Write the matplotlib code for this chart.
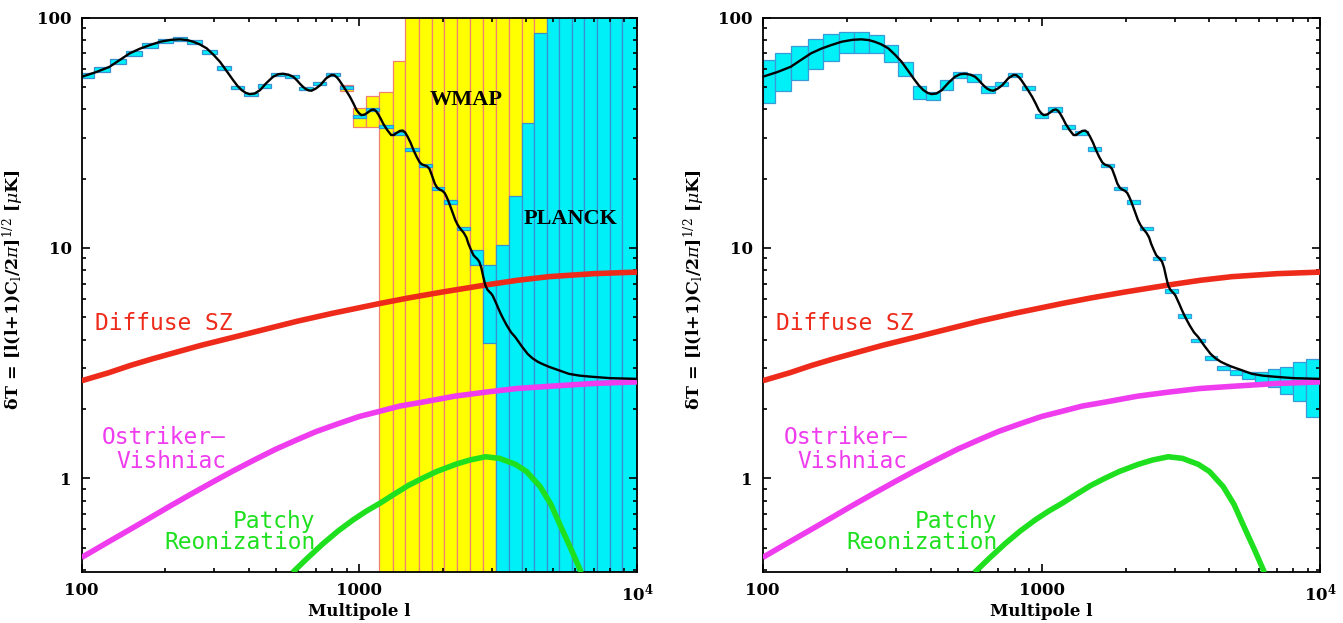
import matplotlib
matplotlib.use('Agg')
import matplotlib.pyplot as plt
import numpy as np

# --------------------  Data ------------------------------------------- #
# CMB temperature spectrum (black curve)
cmb_l = [100, 113, 126, 149, 162, 176, 192, 210, 226, 240,
         252, 266, 282, 298, 315, 333, 351, 364, 377, 390,
         403, 420, 439, 463, 489, 510, 530, 555, 578, 595,
         610, 625, 640, 656, 672, 698, 725, 760, 793, 812,
         830, 846, 862, 893, 925, 952, 978, 998, 1018, 1045,
         1070, 1100, 1125, 1148, 1170, 1195, 1219, 1260, 1302, 1330,
         1360, 1400, 1434, 1462, 1490, 1530, 1567, 1610, 1651, 1685,
         1720, 1755, 1790, 1830, 1870, 1910, 1950, 1990, 2030, 2065,
         2100, 2160, 2217, 2260, 2300, 2340, 2380, 2430, 2473, 2525,
         2577, 2620, 2660, 2705, 2750, 2795, 2842, 2890, 2940, 2980,
         3023, 3070, 3120, 3180, 3250, 3320, 3400, 3520, 3645, 3840,
         4034, 4200, 4400, 4600, 4810, 5200, 5680, 6200, 6830, 8000,
         10000]
cmb_T = [55.3, 58.0, 61.1, 69.9, 73.2, 75.9, 78.5, 80.0, 80.4, 79.8,
         78.5, 76.5, 73.5, 69.0, 64.2, 58.5, 53.5, 50.5, 48.4, 47.1,
         46.5, 46.8, 48.4, 52.0, 55.3, 56.7, 57.0, 56.5, 55.3, 53.5,
         51.7, 50.2, 49.0, 48.3, 48.1, 49.2, 51.0, 54.5, 56.3, 56.2,
         55.0, 53.5, 51.7, 48.5, 45.3, 42.4, 39.6, 38.4, 37.7, 37.9,
         38.6, 39.6, 39.9, 39.3, 38.0, 36.3, 34.6, 32.5, 30.9, 30.9,
         31.5, 32.2, 32.3, 31.7, 30.5, 28.6, 26.6, 24.8, 23.5, 23.0,
         22.8, 22.6, 22.0, 20.5, 19.0, 18.2, 17.9, 17.7, 17.3, 16.6,
         15.8, 14.4, 13.2, 12.6, 12.2, 11.9, 11.6, 11.1, 10.4, 9.8,
         9.3, 9.1, 8.95, 8.7, 8.2, 7.5, 6.9, 6.6, 6.45, 6.35,
         6.2, 5.95, 5.7, 5.4, 5.1, 4.85, 4.6, 4.3, 4.1, 3.75,
         3.47, 3.32, 3.2, 3.12, 3.05, 2.95, 2.84, 2.79, 2.76, 2.72,
         2.70]

# secondary anisotropies
sz_l = [100, 125, 150, 180, 220, 270, 351, 450, 600, 800, 1188, 1500,
        2000, 2848, 3700, 4810, 7000, 10000]
sz_T = [2.65, 2.87, 3.09, 3.30, 3.53, 3.78, 4.09, 4.41, 4.81, 5.20, 5.74, 6.06,
        6.44, 6.9, 7.23, 7.5, 7.73, 7.85]

ov_l = [100, 125, 147, 175, 208, 250, 295, 350, 418, 500, 594, 700, 838,
        1000, 1188, 1400, 1688, 2200, 2848, 3700, 4810, 7000, 10000]
ov_T = [0.453, 0.530, 0.593, 0.670, 0.757, 0.859, 0.960, 1.074, 1.20, 1.337, 1.466,
        1.596, 1.724, 1.854, 1.955, 2.058, 2.14, 2.27, 2.365, 2.453, 2.506, 2.58, 2.62]

patchy_l = [575, 650, 740, 838, 950, 1060, 1188, 1350, 1500, 1688, 1900, 2224,
            2500, 2848, 3200, 3645, 4000, 4480, 4900, 5340, 5800, 6300]
patchy_T = [0.39, 0.45, 0.52, 0.59, 0.66, 0.72, 0.78, 0.86, 0.93, 1.00, 1.07, 1.15,
            1.20, 1.24, 1.22, 1.15, 1.07, 0.92, 0.77, 0.61, 0.49, 0.39]

# band-power bins (multipole edges)
bin_edges = [100, 111, 126, 145, 165, 188, 213, 240, 272, 306, 345, 384, 431, 480,
             541, 604, 679, 760, 851, 950, 1056, 1179, 1318, 1463, 1635, 1820, 2021,
             2252, 2500, 2780, 3097, 3448, 3840, 4266, 4725, 5250, 5830, 6470, 7190,
             7980, 8860, 10000]

# Planck error boxes, left panel (0.3 / 200 = off the plot)
planck_lo = [54.4, 58.0, 62.9, 68.3, 73.6, 77.4, 78.8, 76.4, 69.6, 59.3,
             48.8, 45.8, 49.6, 55.6, 54.5, 48.6, 50.7, 55.7, 48.8, 36.6,
             39.2, 33.1, 31.0, 26.4, 22.4, 17.8, 15.5, 11.9, 8.4, 3.85,
             0.3, 0.3, 0.3, 0.3, 0.3, 0.3, 0.3, 0.3, 0.3, 0.3, 0.3]
planck_hi = [57.2, 61.0, 66.1, 71.8, 77.4, 80.6, 82.0, 79.6, 72.4, 61.7,
             50.2, 47.2, 51.2, 57.2, 56.1, 50.0, 52.3, 57.3, 50.2, 37.8,
             40.4, 34.1, 32.0, 27.2, 23.2, 18.4, 16.1, 12.3, 9.77, 8.4,
             10.3, 16.8, 34.9, 85.9, 200, 200, 200, 200, 200, 200, 200]

# WMAP error boxes, left panel, bins 851..4725
wmap_edges = bin_edges[18:35]
wmap_lo = [48.1, 33.6, 33.4, 0.3, 0.3, 0.3, 0.3, 0.3, 0.3, 0.3, 0.3, 0.3, 0.3, 0.3, 0.3, 0.3]
wmap_hi = [50.9, 40.3, 45.7, 47.6, 64.7, 200, 200, 200, 200, 200, 200, 200, 200, 200, 200, 200]

# future experiment error boxes, right panel
future_lo = [42.6, 48.1, 53.8, 59.5, 64.9, 69.9, 70.3, 69.9, 64.3, 55.7,
             44.5, 44.0, 48.4, 54.4, 52.6, 46.8, 50.3, 55.3, 48.5, 36.5,
             39.0, 32.9, 30.9, 26.3, 22.4, 17.8, 15.5, 11.9, 8.85, 6.4,
             4.98, 3.89, 3.27, 2.95, 2.80, 2.70, 2.60, 2.48, 2.33, 2.17, 1.84]
future_hi = [65.3, 70.3, 75.2, 80.4, 84.5, 86.8, 86.8, 83.9, 75.9, 64.3,
             50.5, 47.5, 53.5, 58.2, 56.8, 50.4, 52.7, 57.7, 50.5, 38.0,
             40.7, 34.3, 32.1, 27.3, 23.2, 18.4, 16.1, 12.3, 9.15, 6.6,
             5.16, 4.03, 3.39, 3.08, 2.95, 2.90, 2.90, 2.97, 3.05, 3.19, 3.30]

# -----------------------  Plot -------------------------- #
plt.rcParams['mathtext.fontset'] = 'dejavuserif'
plt.rcParams['font.family'] = 'DejaVu Serif'

RED = '#ee2a1a'
MAGENTA = '#ee3cee'
GREEN = '#1ee01e'
YELLOW = '#ffff00'
CYAN = '#00f0f8'


def draw_boxes(ax, edges, lo, hi, face, edge, lw):
    left = np.array(edges[:-1], dtype=float)
    width = np.array(edges[1:], dtype=float) - left
    lo = np.array(lo)
    ax.bar(left, np.array(hi) - lo, width=width, bottom=lo, align='edge',
           color=face, edgecolor=edge, linewidth=lw, zorder=1)


def style_axes(ax):
    ax.set_xscale('log')
    ax.set_yscale('log')
    ax.set_xlim(100, 1e4)
    ax.set_ylim(0.39, 100)
    ax.set_xticks([100, 1000, 10000])
    ax.set_xticklabels(['100', '1000', r'10$^{\mathbf{4}}$'])
    ax.set_yticks([1, 10, 100])
    ax.set_yticklabels(['1', '10', '100'])
    ax.tick_params(which='both', direction='in', top=True, right=True, width=1.2)
    ax.tick_params(which='major', length=6, labelsize=12, pad=7)
    ax.tick_params(which='minor', length=3)
    for lab in ax.get_xticklabels() + ax.get_yticklabels():
        lab.set_fontweight('bold')
    for sp in ax.spines.values():
        sp.set_linewidth(1.3)
    ax.set_xlabel('Multipole l', fontsize=12, fontweight='bold')
    ax.xaxis.set_label_coords(0.5, -0.055)
    ax.set_ylabel(r'$\mathbf{\delta}$T = [l(l+1)C$_{\rm l}$/2$\pi$]$^{\rm 1/2}$ [$\mu$K]',
                  fontsize=12.5, fontweight='bold')
    ax.yaxis.set_label_coords(-0.1, 0.51)


def draw_curves(ax):
    ax.plot(sz_l, sz_T, color=RED, lw=4, solid_capstyle='butt', zorder=3)
    ax.plot(ov_l, ov_T, color=MAGENTA, lw=4, solid_capstyle='butt', zorder=3)
    ax.plot(patchy_l, patchy_T, color=GREEN, lw=4, solid_capstyle='butt', zorder=3)
    ax.plot(cmb_l, cmb_T, color='black', lw=1.7, zorder=4)
    kw = dict(fontsize=16.5, family='DejaVu Sans Mono', zorder=5, va='center')
    ax.text(112, 4.7, 'Diffuse SZ', color=RED, ha='left', **kw)
    ax.text(331, 1.337, 'Ostriker\u2013\nVishniac', color=MAGENTA, ha='right',
            multialignment='right', linespacing=1.05, **kw)
    ax.text(695, 0.585, 'Patchy\nReonization', color=GREEN, ha='right',
            multialignment='right', linespacing=0.88, **kw)


fig = plt.figure(figsize=(13.43, 6.23), dpi=100)
ax1 = fig.add_axes([0.0608, 0.0811, 0.4135, 0.8908])
ax2 = fig.add_axes([0.5679, 0.0811, 0.4153, 0.8908])

draw_boxes(ax1, wmap_edges, wmap_lo, wmap_hi, YELLOW, '#f08070', 0.9)
draw_boxes(ax1, bin_edges, planck_lo, planck_hi, CYAN, '#3a8fd0', 0.9)
draw_curves(ax1)
ax1.text(2420, 43.8, 'WMAP', fontsize=16, family='Liberation Serif', fontweight='bold',
         ha='center', va='center', zorder=5)
ax1.text(5780, 13.4, 'PLANCK', fontsize=16, family='Liberation Serif', fontweight='bold',
         ha='center', va='center', zorder=5)
style_axes(ax1)

draw_boxes(ax2, bin_edges, future_lo, future_hi, CYAN, '#3a9ad8', 0.9)
draw_curves(ax2)
style_axes(ax2)

fig.savefig('out.png', dpi=100)
